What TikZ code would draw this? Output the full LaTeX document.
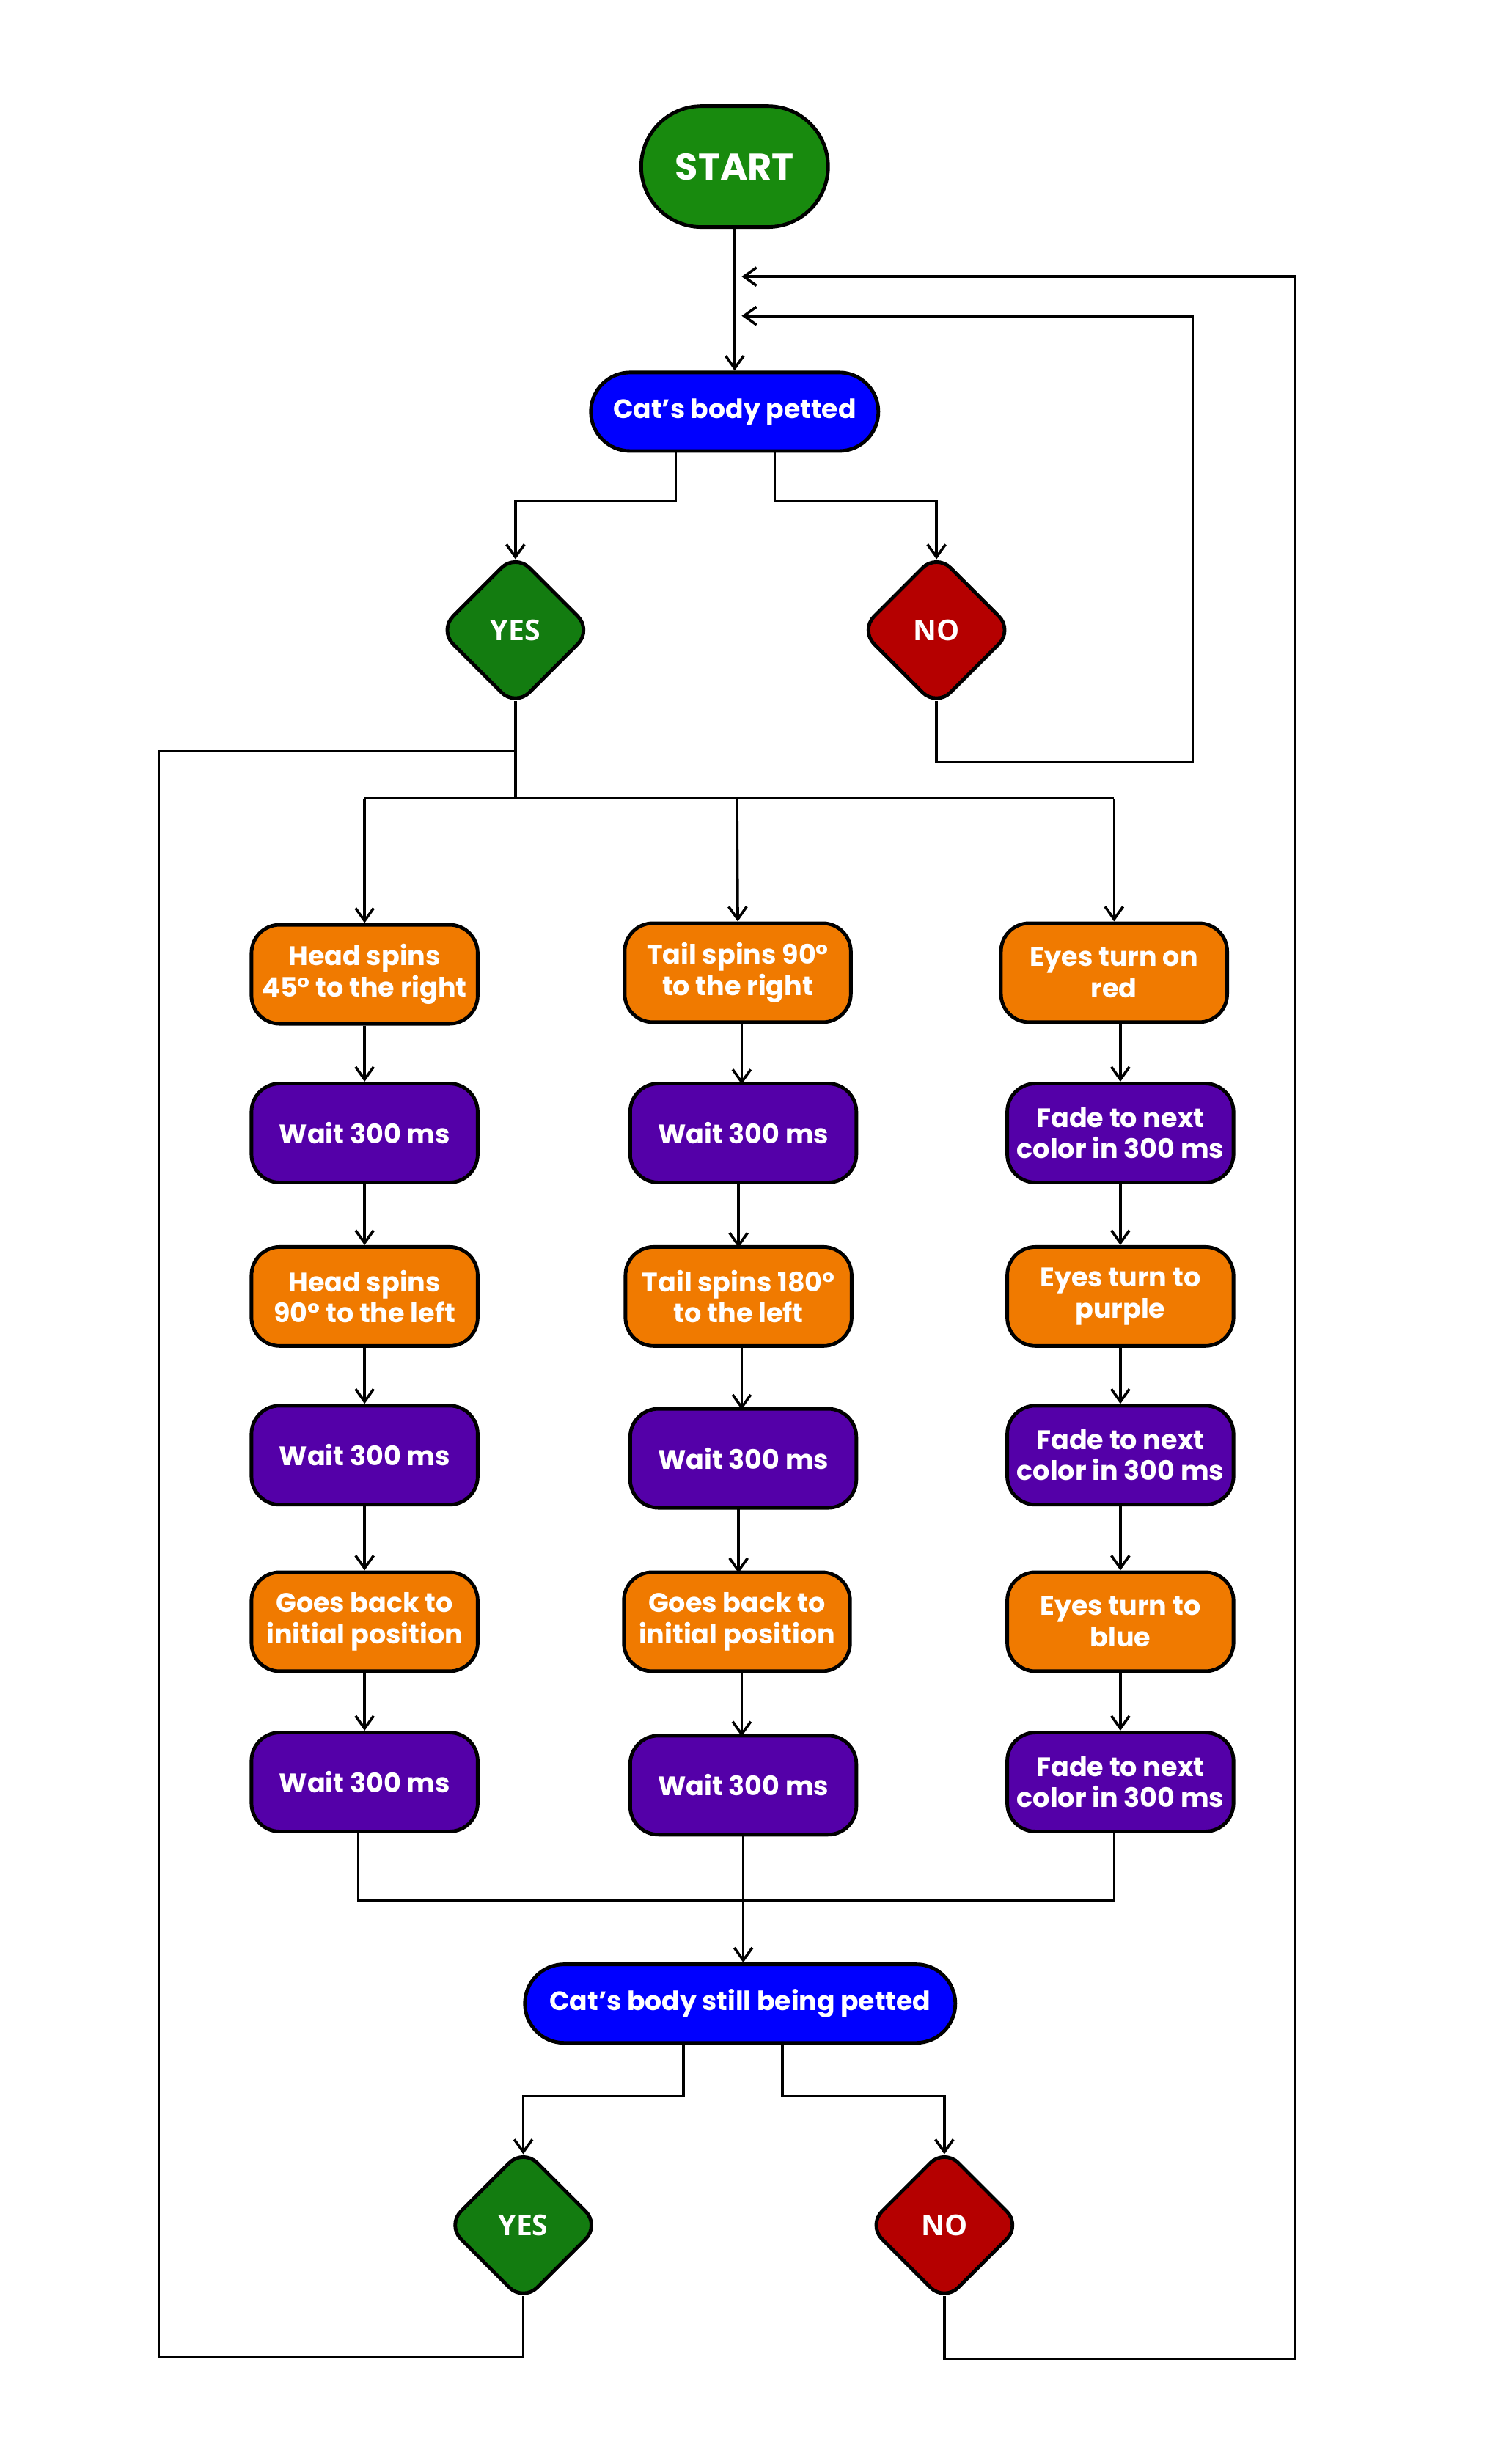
\documentclass[tikz,border=0pt]{standalone}
\usepackage{fontspec}
\setmainfont{Poppins}
\newfontfamily\decfont{Open Sans}
\usetikzlibrary{shapes.geometric,arrows.meta,calc}
\definecolor{cgreen}{HTML}{188A0E}
\definecolor{ygreen}{HTML}{137C10}
\definecolor{nred}{HTML}{B50000}
\definecolor{cblue}{HTML}{0000FF}
\definecolor{corange}{HTML}{F07A00}
\definecolor{cpurple}{HTML}{5400A8}
\tikzset{
  box/.style={draw=black, line width=1.3pt, rounded corners=0.36cm,
    minimum width=2.88cm, minimum height=1.26cm, align=center, text=white,
    inner sep=0pt, font=\bfseries\fontsize{9.7}{11.3}\selectfont},
  act/.style={box, fill=corange},
  waitbox/.style={box, fill=cpurple},
  pill/.style={draw=black, line width=1.3pt, rounded corners=0.5cm, fill=cblue,
    text=white, minimum height=1cm, inner sep=0pt,
    font=\bfseries\fontsize{9.6}{11}\selectfont},
  dec/.style={diamond, draw=black, line width=1.3pt, rounded corners=0.25cm,
    minimum width=1.96cm, minimum height=1.96cm, inner sep=0pt, text=white,
    font=\decfont\bfseries\fontsize{10.4}{12}\selectfont},
  conn/.style={line width=0.95pt, draw=black},
  arr/.style={conn, -{Straight Barb[length=1.6mm, width=2.3mm, line width=0.95pt]}},
}
\begin{document}
\begin{tikzpicture}[x=0.02cm, y=-0.02cm]
\useasboundingbox[fill=white] (0,0) rectangle (957,1568);

% top
\node[draw=black, line width=1.3pt, fill=cgreen, rounded corners=0.77cm,
  minimum width=2.38cm, minimum height=1.54cm, inner sep=0pt, text=white,
  font=\bfseries\fontsize{13.5}{15}\selectfont] (start) at (467.5,106) {START};
\node[pill, minimum width=3.66cm] (body1) at (467.5,262) {Cat’s body petted};

\node[dec, fill=ygreen] (yes1) at (328,401) {YES};
\node[dec, fill=nred] (no1) at (596,401) {NO};

% column 1
\node[act] (h1) at (232,620) {Head spins\\45° to the right};
\node[waitbox] (w11) at (232,721) {Wait 300 ms};
\node[act] (h2) at (232,825) {Head spins\\90° to the left};
\node[waitbox] (w12) at (232,926) {Wait 300 ms};
\node[act] (h3) at (232,1032) {Goes back to\\initial position};
\node[waitbox] (w13) at (232,1134) {Wait 300 ms};

% column 2
\node[act] (t1) at (469.5,619) {Tail spins 90°\\to the right};
\node[waitbox] (w21) at (473,721) {Wait 300 ms};
\node[act] (t2) at (470,825) {Tail spins 180°\\to the left};
\node[waitbox] (w22) at (473,928) {Wait 300 ms};
\node[act] (t3) at (469,1032) {Goes back to\\initial position};
\node[waitbox] (w23) at (473,1136) {Wait 300 ms};

% column 3
\node[act] (e1) at (709,619) {Eyes turn on\\red};
\node[waitbox] (f1) at (713,721) {Fade to next\\color in 300 ms};
\node[act] (e2) at (713,825) {Eyes turn to\\purple};
\node[waitbox] (f2) at (713,926) {Fade to next\\color in 300 ms};
\node[act] (e3) at (713,1032) {Eyes turn to\\blue};
\node[waitbox] (f3) at (713,1134) {Fade to next\\color in 300 ms};

% bottom
\node[pill, minimum width=5.48cm] (body2) at (471,1275) {Cat’s body still being petted};
\node[dec, fill=ygreen] (yes2) at (333,1416) {YES};
\node[dec, fill=nred] (no2) at (601,1416) {NO};

% visible tips of diamonds
\coordinate (yes1t) at ($(yes1.north)+(0,5)$);
\coordinate (yes1b) at ($(yes1.south)+(0,-5)$);
\coordinate (no1t) at ($(no1.north)+(0,5)$);
\coordinate (no1b) at ($(no1.south)+(0,-5)$);
\coordinate (yes2t) at ($(yes2.north)+(0,5)$);
\coordinate (yes2b) at ($(yes2.south)+(0,-5)$);
\coordinate (no2t) at ($(no2.north)+(0,5)$);
\coordinate (no2b) at ($(no2.south)+(0,-5)$);

% helper coordinates
\coordinate (in1) at (472,176);
\coordinate (in2) at (472,201);
\coordinate (sp1l) at (430,287);
\coordinate (sp1r) at (493,287);
\coordinate (bus) at (328,508);
\coordinate (b1) at (232,508);
\coordinate (b2) at (469,508);
\coordinate (b3) at (709,508);
\coordinate (m1) at (228,1166);
\coordinate (m3) at (709,1166);
\coordinate (sp2l) at (435,1300);
\coordinate (sp2r) at (498,1300);
\coordinate (lj) at (328,478);

% connectors top
\draw[arr] (start.south) -- (body1.north);
\draw[arr] (sp1l) -- (430,319) -| (yes1t);
\draw[arr] (sp1r) -- (493,319) -| (no1t);
\draw[arr] (no1b) -- (596,485) -| (759,201) -- (in2);
\draw[arr] (no2b) -- (601,1501) -| (824,176) -- (in1);

% yes -> bus
\draw[conn] (yes1b) -- (bus);
\draw[conn] (b1) -- (b3);
\draw[arr] (b1) -- (h1.north);
\draw[arr] (b2) -- (t1.north);
\draw[arr] (b3) -- (e1.north);

% columns
\draw[arr] (h1.south) -- (h1.south |- w11.north);
\draw[arr] (w11.south) -- (w11.south |- h2.north);
\draw[arr] (h2.south) -- (h2.south |- w12.north);
\draw[arr] (w12.south) -- (w12.south |- h3.north);
\draw[arr] (h3.south) -- (h3.south |- w13.north);

\draw[arr] (472,651) -- (472,690);
\draw[arr] (470,753) -- (470,794);
\draw[arr] (472,857) -- (472,897);
\draw[arr] (470,960) -- (470,1001);
\draw[arr] (472,1064) -- (472,1105);

\draw[arr] (e1.south -| f1) -- (f1.north);
\draw[arr] (f1.south) -- (e2.north);
\draw[arr] (e2.south) -- (f2.north);
\draw[arr] (f2.south) -- (e3.north);
\draw[arr] (e3.south) -- (f3.north);

% merge
\draw[conn] (m1) -- (228,1209) -- (709,1209) -- (m3);
\draw[arr] (w23.south) -- (w23.south |- body2.north);

% bottom splits
\draw[arr] (sp2l) -- (435,1334) -| (yes2t);
\draw[arr] (sp2r) -- (498,1334) -| (no2t);

% left loop
\draw[conn] (yes2b) -- (333,1500) -| (101,478) -- (lj);
\end{tikzpicture}
\end{document}
